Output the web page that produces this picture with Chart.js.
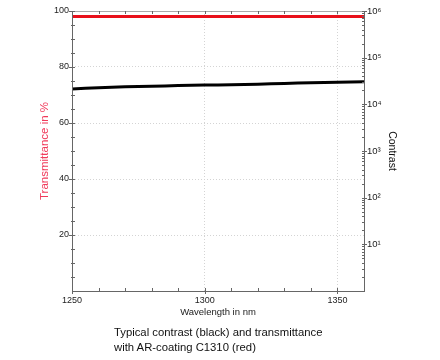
<!DOCTYPE html>
<html><head><meta charset="utf-8">
<script src="https://cdn.jsdelivr.net/npm/chart.js@4.4.1/dist/chart.umd.min.js"></script>
<style>
html,body{margin:0;padding:0;background:#fff;}
#wrap{position:relative;width:440px;height:360px;}
#caption{position:absolute;left:114px;top:325px;font:11.3px "Liberation Sans",Arial,sans-serif;line-height:15px;color:#111;white-space:nowrap;}
</style></head><body>
<div id="wrap"><canvas id="c" width="440" height="360"></canvas>
<div id="caption">Typical contrast (black) and transmittance<br>with AR-coating C1310 (red)</div></div>
<script>
const wavelengths = [1250,1260,1270,1280,1290,1300,1310,1320,1330,1340,1350,1360];
const contrast = [21300,22700,23700,24500,25200,25800,26400,27100,28000,29000,29800,30500];
const transmittance = [98,98,98,98,98,98,98,98,98,98,98,98];
const xTickValues = [1250,1300,1350];
const leftTickValues = [20,40,60,80,100];
const rightTickExponents = [1,2,3,4,5,6];

const SUP = {'0':'⁰','1':'¹','2':'²','3':'³','4':'⁴','5':'⁵','6':'⁶','7':'⁷','8':'⁸','9':'⁹'};
const FONT = '"Liberation Sans", Arial, sans-serif';
const AXIS = '#666';

const tickPlugin = {
  id: 'minorTicks',
  afterDraw(chart) {
    const ctx = chart.ctx, a = chart.chartArea;
    const x = chart.scales.x, y = chart.scales.y, y1 = chart.scales.y1;
    ctx.save();
    ctx.setLineDash([]);
    ctx.strokeStyle = '#aaa'; ctx.lineWidth = 1;
    ctx.beginPath();
    ctx.moveTo(a.left, a.top + 0.5); ctx.lineTo(a.right, a.top + 0.5);
    ctx.stroke();
    ctx.strokeStyle = AXIS;
    ctx.beginPath();
    ctx.moveTo(a.left + 0.5, a.top); ctx.lineTo(a.left + 0.5, a.bottom + 0.5);
    ctx.moveTo(a.left, a.bottom + 0.5); ctx.lineTo(a.right, a.bottom + 0.5);
    for (let v = 1250; v <= 1360; v += 10) {
      const px = Math.round(x.getPixelForValue(v)) + 0.5;
      const major = xTickValues.includes(v);
      ctx.moveTo(px, a.bottom + (major ? 3 : 1)); ctx.lineTo(px, a.bottom - 3);
      ctx.moveTo(px, a.top); ctx.lineTo(px, a.top + 3);
    }
    for (let v = 5; v <= 100; v += 5) {
      const py = Math.round(y.getPixelForValue(v)) + 0.5;
      const major = leftTickValues.includes(v);
      ctx.moveTo(a.left - (major ? 3 : 1), py); ctx.lineTo(a.left + 3, py);
    }
    for (let e = 0; e < 6; e++) {
      for (let m = 1; m <= 9; m++) {
        const v = m * Math.pow(10, e);
        if (v <= 1) continue;
        const py = Math.round(y1.getPixelForValue(v)) + 0.5;
        ctx.moveTo(a.right - 2, py); ctx.lineTo(a.right + (m === 1 ? 3 : 1), py);
      }
    }
    const p6 = Math.round(y1.getPixelForValue(1e6)) + 0.5;
    ctx.moveTo(a.right - 2, p6); ctx.lineTo(a.right + 3, p6);
    ctx.stroke();
    ctx.restore();
  }
};

new Chart(document.getElementById('c'), {
  type: 'line',
  data: {
    datasets: [
      { label: 'Transmittance', data: wavelengths.map((w,i)=>({x:w,y:transmittance[i]})),
        yAxisID: 'y', borderColor: '#e8101a', borderWidth: 3, pointRadius: 0, tension: 0 },
      { label: 'Contrast', data: wavelengths.map((w,i)=>({x:w,y:contrast[i]})),
        yAxisID: 'y1', borderColor: '#000', borderWidth: 3, pointRadius: 0, tension: 0.3 }
    ]
  },
  options: {
    responsive: false, animation: false,
    layout: { padding: { top: 11, left: 0, right: 0, bottom: 40 } },
    plugins: { legend: { display: false }, tooltip: { enabled: false } },
    scales: {
      x: {
        type: 'linear', position: 'bottom', min: 1250, max: 1360,
        afterBuildTicks: s => { s.ticks = xTickValues.map(v => ({value: v})); },
        afterFit: s => { s.height = 29; },
        ticks: { callback: v => String(v), font: { family: FONT, size: 9 }, color: '#222', padding: 4, maxRotation: 0 },
        grid: { color: '#d4d4d4', drawTicks: false },
        border: { display: false, dash: [1, 2] },
        title: { display: true, text: 'Wavelength in nm', font: { family: FONT, size: 9.5 }, color: '#222', padding: { top: 0, bottom: 1.5 } }
      },
      y: {
        type: 'linear', position: 'left', min: 0, max: 100,
        afterBuildTicks: s => { s.ticks = leftTickValues.map(v => ({value: v})); },
        afterFit: s => { s.width = 72; },
        ticks: { font: { family: FONT, size: 9 }, color: '#222', padding: 3 },
        grid: { color: '#d4d4d4', drawTicks: false },
        border: { display: false, dash: [1, 2] },
        title: { display: true, text: 'Transmittance in %', font: { family: FONT, size: 11.5 }, color: '#f03a5a', padding: { top: 38, bottom: 0 } }
      },
      y1: {
        type: 'logarithmic', position: 'right', min: 1, max: 1e6,
        afterBuildTicks: s => { s.ticks = rightTickExponents.map(e => ({value: Math.pow(10, e)})); },
        afterFit: s => { s.width = 76; },
        ticks: { callback: v => '10' + String(Math.round(Math.log10(v))).split('').map(c => SUP[c]).join(''),
                 font: { family: FONT, size: 9.5 }, color: '#222', padding: 3 },
        grid: { display: false, drawTicks: false },
        border: { color: AXIS, width: 1 },
        title: { display: true, text: 'Contrast', font: { family: FONT, size: 10.5 }, color: '#111', padding: { top: 41.7, bottom: 0 } }
      }
    }
  },
  plugins: [tickPlugin]
});
</script>
</body></html>
